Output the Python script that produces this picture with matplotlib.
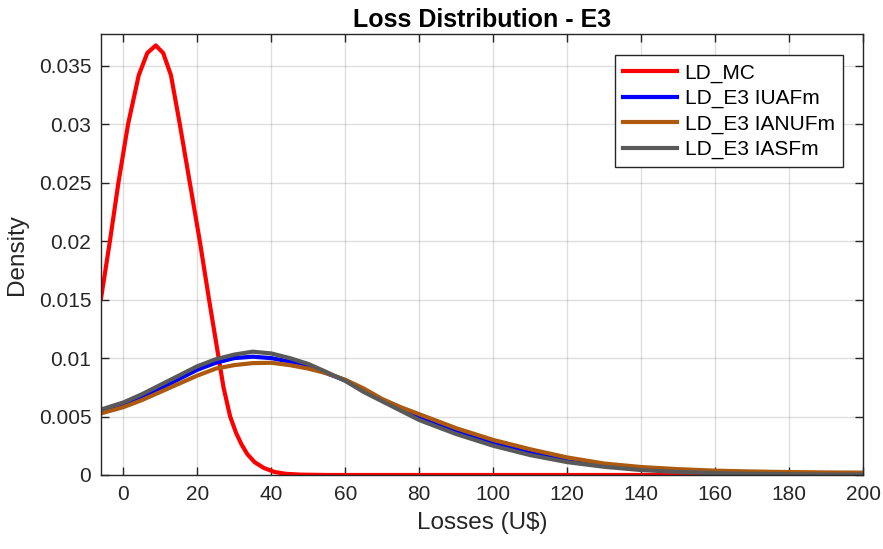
import matplotlib
matplotlib.use('Agg')
import matplotlib.pyplot as plt

plt.rcParams['font.family'] = ['Liberation Sans', 'DejaVu Sans']

TXT = '#262626'

# Monte Carlo loss density
mc_x = [-6, -3.6, -1.3, 1.3, 4.2, 6.5, 8.8, 10.8, 12.9, 15.3, 18.0, 20.7, 23.2,
        25.8, 27.1, 28.9, 30.5, 32.0, 33.5, 35.5, 38.0, 41, 44, 48, 55, 70,
        100, 150, 200]
mc_y = [0.0151, 0.0200, 0.0250, 0.0300, 0.0342, 0.0361, 0.03675, 0.0361,
        0.0342, 0.0300, 0.0250, 0.0200, 0.0150, 0.0100, 0.0075, 0.0050,
        0.0036, 0.0026, 0.0018, 0.0011, 0.0006, 0.00025, 0.0001, 0.00003,
        0, 0, 0, 0, 0]

# fitted E3 densities share one loss grid
fit_x = [-6, 0, 5, 10, 15, 20, 25, 30, 35, 40, 45, 50, 55, 60, 65, 70, 75,
         80, 85, 90, 95, 100, 110, 120, 130, 140, 150, 160, 170, 180, 190, 200]
iuafm = [0.00547, 0.0060, 0.0067, 0.0074, 0.0082, 0.0090, 0.0096, 0.0100,
         0.01012, 0.0100, 0.0097, 0.0093, 0.0087, 0.0081, 0.0072, 0.0064,
         0.0056, 0.0049, 0.0043, 0.0037, 0.0032, 0.0027, 0.0019, 0.00125,
         0.00082, 0.00052, 0.00036, 0.00026, 0.0002, 0.00016, 0.00013, 0.0001]
ianufm = [0.00527, 0.0058, 0.0064, 0.0071, 0.0078, 0.0085, 0.0091, 0.0094,
          0.00957, 0.0096, 0.0094, 0.0091, 0.0087, 0.00815, 0.0074, 0.0065,
          0.0058, 0.0052, 0.0046, 0.0040, 0.0035, 0.0030, 0.0022, 0.0015,
          0.00098, 0.00068, 0.0005, 0.00037, 0.0003, 0.00025, 0.00022, 0.0002]
iasfm = [0.0056, 0.0062, 0.0069, 0.0077, 0.0085, 0.0093, 0.0099, 0.0103,
         0.01055, 0.0104, 0.0100, 0.0095, 0.0088, 0.00805, 0.0071, 0.0063,
         0.0055, 0.0047, 0.0041, 0.0035, 0.0030, 0.0025, 0.0017, 0.0011,
         0.0007, 0.00042, 0.00026, 0.00016, 0.0001, 0.00007, 0.00005, 0.00004]

x_ticks = list(range(0, 201, 20))
y_ticks = [0, 0.005, 0.01, 0.015, 0.02, 0.025, 0.03, 0.035]
y_labels = ['0', '0.005', '0.01', '0.015', '0.02', '0.025', '0.03', '0.035']

fig = plt.figure(figsize=(8.83, 5.49), dpi=100)
ax = fig.add_axes([0.1144, 0.1348, 0.8633, 0.8027])

LW = 3.0
ax.plot(mc_x, mc_y, color='#FF0000', lw=LW, label='LD_MC')
ax.plot(fit_x, iuafm, color='#0000FF', lw=LW, label='LD_E3 IUAFm',
        solid_joinstyle='round')
ax.plot(fit_x, ianufm, color='#AD5A0E', lw=LW, label='LD_E3 IANUFm',
        solid_joinstyle='round')
ax.plot(fit_x, iasfm, color='#595959', lw=LW, label='LD_E3 IASFm',
        solid_joinstyle='round')

ax.set_xlim(-6, 200)
ax.set_ylim(0, 0.0377)
ax.set_xticks(x_ticks)
ax.set_yticks(y_ticks)
ax.set_yticklabels(y_labels)

ax.grid(True, color='#000000', alpha=0.13, lw=1.0)
ax.set_axisbelow(True)
ax.tick_params(direction='in', length=6, width=1, colors=TXT, labelsize=15,
               top=True, right=True, pad=7)
for sp in ax.spines.values():
    sp.set_color(TXT)
    sp.set_linewidth(1.0)

ax.set_xlabel('Losses (U$)', fontsize=17.5, color=TXT, labelpad=6)
ax.set_ylabel('Density', fontsize=17.5, color=TXT, labelpad=8)
ax.set_title('Loss Distribution - E3', fontsize=18, fontweight='bold',
             color='black', pad=5)

leg = ax.legend(loc='upper right', bbox_to_anchor=(0.9734, 0.953),
                borderaxespad=0, fontsize=15, fancybox=False, framealpha=1,
                edgecolor=TXT, handlelength=2.6, handletextpad=0.35,
                labelspacing=0.3, borderpad=0.4)
leg.get_frame().set_linewidth(1.0)

fig.savefig('out.png', dpi=100)
